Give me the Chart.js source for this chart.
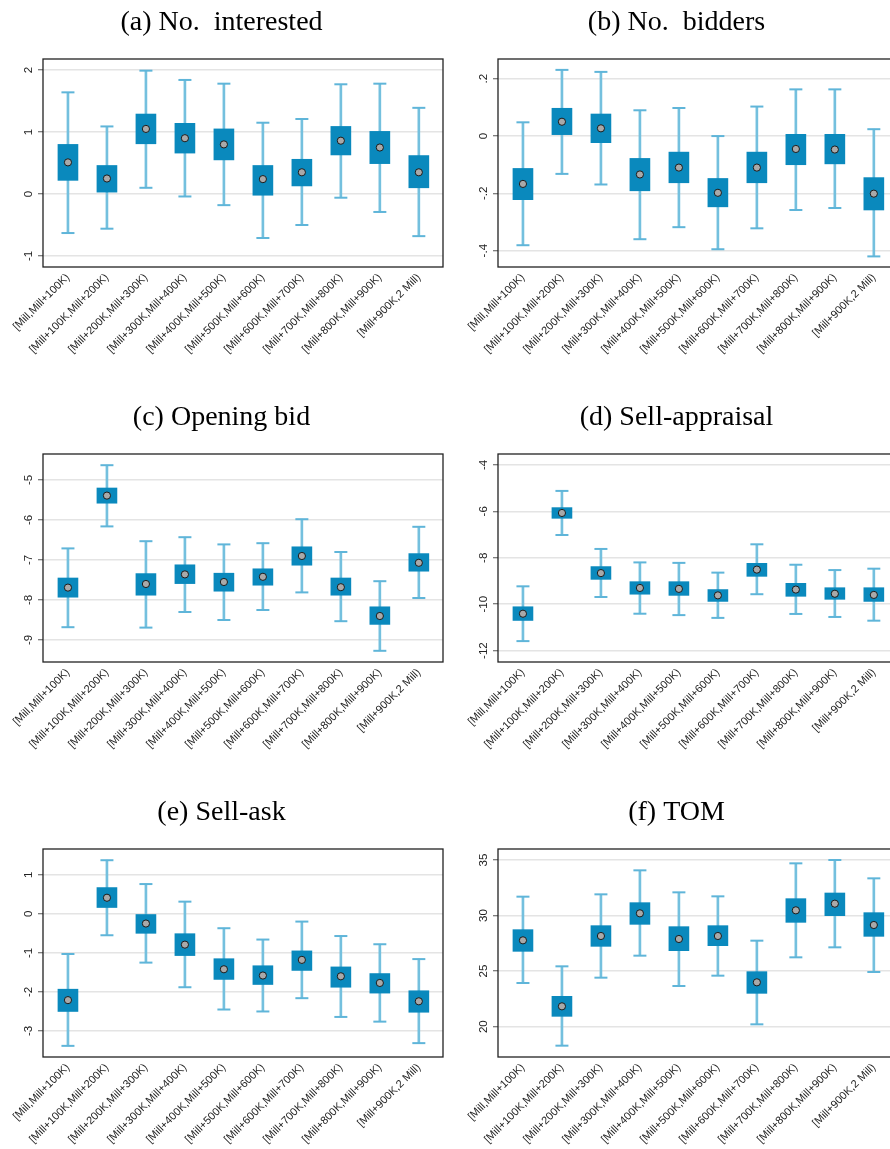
<!DOCTYPE html>
<html>
<head>
<meta charset="utf-8">
<script src="https://cdn.jsdelivr.net/npm/chart.js@4.4.1/dist/chart.umd.min.js"></script>
<style>
  html, body { margin: 0; padding: 0; background: #fff; overflow: hidden; }
  body { position: relative; width: 890px; height: 1149px; }
  .panel { position: absolute; width: 455px; height: 395px; }
  .panel canvas { display: block; }
</style>
</head>
<body>
<div class="panel" style="left:0;top:0"><canvas id="pa" width="455" height="395"></canvas></div>
<div class="panel" style="left:455px;top:0"><canvas id="pb" width="455" height="395"></canvas></div>
<div class="panel" style="left:0;top:395px"><canvas id="pc" width="455" height="395"></canvas></div>
<div class="panel" style="left:455px;top:395px"><canvas id="pd" width="455" height="395"></canvas></div>
<div class="panel" style="left:0;top:790px"><canvas id="pe" width="455" height="395"></canvas></div>
<div class="panel" style="left:455px;top:790px"><canvas id="pf" width="455" height="395"></canvas></div>

<script>
// Price bins
const categories = [
  "[Mill,Mill+100K)", "[Mill+100K,Mill+200K)", "[Mill+200K,Mill+300K)",
  "[Mill+300K,Mill+400K)", "[Mill+400K,Mill+500K)", "[Mill+500K,Mill+600K)",
  "[Mill+600K,Mill+700K)", "[Mill+700K,Mill+800K)", "[Mill+800K,Mill+900K)",
  "[Mill+900K,2 Mill)"
];

// (a) No. interested
const interestedMed   = [0.51, 0.25, 1.05, 0.90, 0.80, 0.24, 0.35, 0.86, 0.75, 0.35];
const interestedBoxLo = [0.22, 0.03, 0.81, 0.66, 0.55, -0.02, 0.13, 0.63, 0.49, 0.10];
const interestedBoxHi = [0.80, 0.46, 1.29, 1.14, 1.05, 0.46, 0.56, 1.09, 1.01, 0.62];
const interestedWhLo  = [-0.63, -0.56, 0.10, -0.04, -0.18, -0.71, -0.50, -0.06, -0.29, -0.68];
const interestedWhHi  = [1.64, 1.09, 1.99, 1.84, 1.78, 1.15, 1.21, 1.77, 1.78, 1.39];
const interestedTicks = [-1, 0, 1, 2];
const interestedTickLabels = ["-1", "0", "1", "2"];

// (b) No. bidders
const biddersMed   = [-0.167, 0.050, 0.027, -0.134, -0.110, -0.198, -0.110, -0.045, -0.047, -0.201];
const biddersBoxLo = [-0.222, 0.005, -0.023, -0.191, -0.163, -0.247, -0.163, -0.100, -0.097, -0.258];
const biddersBoxHi = [-0.113, 0.097, 0.077, -0.078, -0.056, -0.148, -0.056, 0.006, 0.006, -0.145];
const biddersWhLo  = [-0.381, -0.132, -0.169, -0.360, -0.318, -0.395, -0.322, -0.258, -0.251, -0.420];
const biddersWhHi  = [0.048, 0.231, 0.224, 0.090, 0.098, 0.000, 0.103, 0.163, 0.163, 0.024];
const biddersTicks = [-0.4, -0.2, 0, 0.2];
const biddersTickLabels = ["-.4", "-.2", "0", ".2"];

// (c) Opening bid
const openingMed   = [-7.69, -5.39, -7.60, -7.36, -7.55, -7.42, -6.90, -7.68, -8.40, -7.07];
const openingBoxLo = [-7.93, -5.58, -7.88, -7.59, -7.78, -7.63, -7.13, -7.88, -8.61, -7.28];
const openingBoxHi = [-7.45, -5.20, -7.34, -7.12, -7.33, -7.22, -6.67, -7.45, -8.17, -6.84];
const openingWhLo  = [-8.68, -6.16, -8.69, -8.30, -8.50, -8.25, -7.81, -8.53, -9.27, -7.95];
const openingWhHi  = [-6.71, -4.63, -6.53, -6.43, -6.61, -6.58, -5.98, -6.80, -7.53, -6.17];
const openingTicks = [-9, -8, -7, -6, -5];
const openingTickLabels = ["-9", "-8", "-7", "-6", "-5"];

// (d) Sell-appraisal
const appraisalMed   = [-10.41, -6.07, -8.66, -9.30, -9.34, -9.62, -8.51, -9.37, -9.55, -9.60];
const appraisalBoxLo = [-10.70, -6.30, -8.93, -9.57, -9.62, -9.88, -8.80, -9.66, -9.79, -9.88];
const appraisalBoxHi = [-10.11, -5.84, -8.38, -9.03, -9.03, -9.37, -8.24, -9.10, -9.29, -9.29];
const appraisalWhLo  = [-11.59, -7.02, -9.69, -10.41, -10.47, -10.59, -9.57, -10.42, -10.55, -10.71];
const appraisalWhHi  = [-9.23, -5.12, -7.62, -8.20, -8.22, -8.64, -7.42, -8.30, -8.53, -8.47];
const appraisalTicks = [-12, -10, -8, -6, -4];
const appraisalTickLabels = ["-12", "-10", "-8", "-6", "-4"];

// (e) Sell-ask
const askMed   = [-2.21, 0.41, -0.25, -0.79, -1.42, -1.58, -1.18, -1.60, -1.77, -2.24];
const askBoxLo = [-2.50, 0.16, -0.50, -1.07, -1.68, -1.81, -1.45, -1.88, -2.03, -2.52];
const askBoxHi = [-1.93, 0.67, 0.00, -0.51, -1.15, -1.33, -0.95, -1.36, -1.53, -1.97];
const askWhLo  = [-3.38, -0.55, -1.25, -1.88, -2.45, -2.50, -2.16, -2.64, -2.76, -3.31];
const askWhHi  = [-1.03, 1.37, 0.76, 0.31, -0.37, -0.66, -0.20, -0.57, -0.78, -1.16];
const askTicks = [-3, -2, -1, 0, 1];
const askTickLabels = ["-3", "-2", "-1", "0", "1"];

// (f) TOM
const tomMed   = [27.77, 21.83, 28.16, 30.20, 27.89, 28.16, 23.99, 30.47, 31.07, 29.15];
const tomBoxLo = [26.78, 20.93, 27.23, 29.21, 26.84, 27.29, 23.00, 29.39, 29.99, 28.13];
const tomBoxHi = [28.73, 22.73, 29.09, 31.16, 29.00, 29.09, 24.95, 31.52, 32.03, 30.26];
const tomWhLo  = [23.93, 18.29, 24.41, 26.39, 23.66, 24.59, 20.21, 26.24, 27.14, 24.92];
const tomWhHi  = [31.70, 25.43, 31.91, 34.07, 32.09, 31.73, 27.74, 34.70, 35.00, 33.35];
const tomTicks = [20, 25, 30, 35];
const tomTickLabels = ["20", "25", "30", "35"];

const BOX_COLOR = "#0a89bd";
const WHISKER_COLOR = "#74c0de";
const CAP_COLOR = "#5fb5d9";
const DOT_FILL = "#a9a9a9";
const DOT_EDGE = "#1c1c1c";
const TICK_FONT = { family: "'Liberation Sans', Arial, sans-serif", size: 11 };
const Y_FONT = { family: "'Liberation Sans', Arial, sans-serif", size: 11.5 };
const CANVAS_H = 395;
const PLOT_BOTTOM = 267;
const Y_AXIS_W = 43;
const Y_LABEL_CENTER = 14.3; // distance of rotated y labels from the frame
const TICK_LEN = 5;

// draws the black frame around the plotting region
const framePlugin = {
  id: "frame",
  afterDatasetsDraw(chart) {
    const a = chart.chartArea;
    const ctx = chart.ctx;
    ctx.save();
    ctx.strokeStyle = "#222";
    ctx.lineWidth = 1.3;
    ctx.strokeRect(a.left, a.top, a.right - a.left, a.bottom - a.top);
    ctx.restore();
  }
};

const measureCtx = document.createElement("canvas").getContext("2d");
function widestLabel(labels) {
  measureCtx.font = Y_FONT.size + "px " + Y_FONT.family;
  return Math.max(...labels.map(l => measureCtx.measureText(l).width));
}

function makePanel(id, title, yMin, yMax, yTicks, yTickLabels, med, boxLo, boxHi, whLo, whHi) {
  const idx = categories.map((_, i) => i);
  const whiskers = idx.map(i => ({ x: i, y: [whLo[i], whHi[i]] }));
  const boxes = idx.map(i => ({ x: i, y: [boxLo[i], boxHi[i]] }));
  const caps = idx.map(i => ({ x: i, y: whLo[i] })).concat(idx.map(i => ({ x: i, y: whHi[i] })));
  const dots = idx.map(i => ({ x: i, y: med[i] }));
  const yPad = Y_LABEL_CENTER - TICK_LEN - widestLabel(yTickLabels) / 2;

  new Chart(document.getElementById(id), {
    type: "bar",
    data: {
      datasets: [
        { type: "bar", data: whiskers, backgroundColor: WHISKER_COLOR, borderWidth: 0,
          grouped: false, barThickness: 2, maxBarThickness: 2, order: 4 },
        { type: "line", data: caps, showLine: false, pointStyle: "line", pointRadius: 6.5,
          pointBorderWidth: 2, pointBorderColor: CAP_COLOR, pointBackgroundColor: CAP_COLOR, order: 3 },
        { type: "bar", data: boxes, backgroundColor: BOX_COLOR, borderWidth: 0,
          grouped: false, barThickness: 20, maxBarThickness: 20, order: 2 },
        { type: "line", data: dots, showLine: false, pointStyle: "circle", pointRadius: 3.6,
          pointBorderWidth: 1, pointBorderColor: DOT_EDGE, pointBackgroundColor: DOT_FILL, order: 1 }
      ]
    },
    options: {
      responsive: false,
      animation: false,
      events: [],
      layout: { padding: { left: 0, right: 12, top: 0, bottom: 0 } },
      plugins: {
        legend: { display: false },
        tooltip: { enabled: false },
        title: {
          display: true, text: title, color: "#000",
          font: { family: "'Liberation Serif', 'Times New Roman', serif", size: 28, weight: "normal", lineHeight: 1.2 },
          padding: { top: 6, bottom: 19.4 }
        }
      },
      scales: {
        x: {
          type: "linear", min: -0.64, max: 9.62, offset: false,
          grid: { display: false, drawTicks: false }, border: { display: false },
          afterBuildTicks: s => { s.ticks = idx.map(i => ({ value: i })); },
          afterFit: s => { s.height = CANVAS_H - PLOT_BOTTOM; s.paddingLeft = 0; s.paddingRight = 0; },
          ticks: {
            autoSkip: false, minRotation: 45, maxRotation: 45, padding: 4,
            color: "#222", font: TICK_FONT,
            callback: v => categories[v]
          }
        },
        y: {
          type: "linear", min: yMin, max: yMax,
          border: { display: false },
          grid: { color: "#e4e4e4", lineWidth: 1.5, drawTicks: true, tickLength: TICK_LEN,
                  tickColor: "#555", tickWidth: 1 },
          afterBuildTicks: s => { s.ticks = yTicks.map(v => ({ value: v })); },
          afterFit: s => { s.width = Y_AXIS_W; s.paddingTop = 0; s.paddingBottom = 0; },
          ticks: {
            minRotation: 90, maxRotation: 90, crossAlign: "center", padding: yPad,
            color: "#222", font: Y_FONT,
            callback: v => yTickLabels[yTicks.indexOf(v)]
          }
        }
      }
    },
    plugins: [framePlugin]
  });
}

makePanel("pa", "(a) No.  interested", -1.178, 2.178, interestedTicks, interestedTickLabels,
  interestedMed, interestedBoxLo, interestedBoxHi, interestedWhLo, interestedWhHi);
makePanel("pb", "(b) No.  bidders", -0.457, 0.269, biddersTicks, biddersTickLabels,
  biddersMed, biddersBoxLo, biddersBoxHi, biddersWhLo, biddersWhHi);
makePanel("pc", "(c) Opening bid", -9.55, -4.35, openingTicks, openingTickLabels,
  openingMed, openingBoxLo, openingBoxHi, openingWhLo, openingWhHi);
makePanel("pd", "(d) Sell-appraisal", -12.49, -3.53, appraisalTicks, appraisalTickLabels,
  appraisalMed, appraisalBoxLo, appraisalBoxHi, appraisalWhLo, appraisalWhHi);
makePanel("pe", "(e) Sell-ask", -3.665, 1.657, askTicks, askTickLabels,
  askMed, askBoxLo, askBoxHi, askWhLo, askWhHi);
makePanel("pf", "(f) TOM", 17.27, 35.99, tomTicks, tomTickLabels,
  tomMed, tomBoxLo, tomBoxHi, tomWhLo, tomWhHi);
</script>
</body>
</html>
